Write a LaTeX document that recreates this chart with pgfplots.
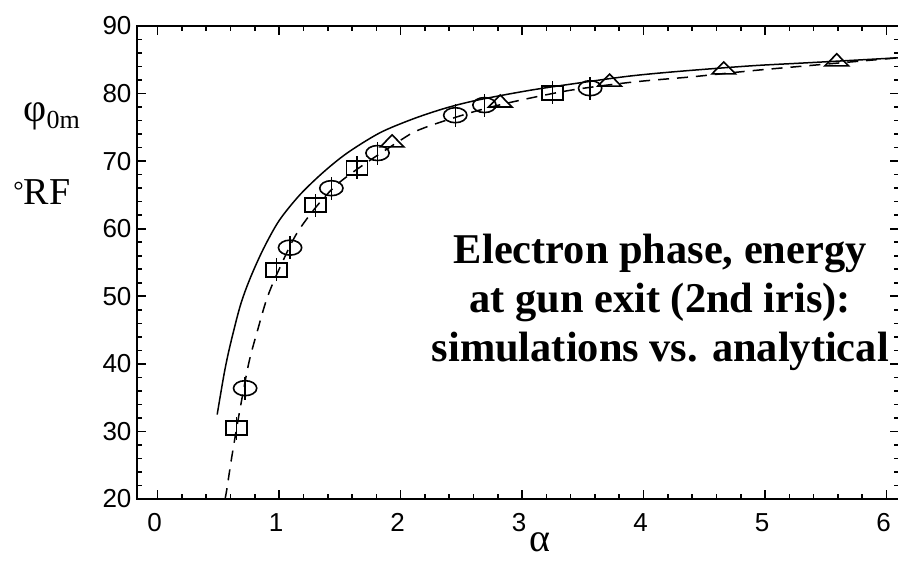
\documentclass[border=0pt]{standalone}
\usepackage{fontspec}
\setmainfont{Liberation Serif}
\newfontfamily\sansf{Liberation Sans}
\usepackage{pgfplots}
\usepackage{pgfplotstable}
\pgfplotsset{compat=1.18}

\pgfplotstableread{
x y
0.49 32.5
0.55 38.8
0.60 43.0
0.68 48.6
0.76 52.6
0.87 57.0
1.00 61.2
1.17 65.0
1.36 68.3
1.56 71.2
1.83 74.2
2.11 76.3
2.38 77.9
2.65 79.1
3.07 80.5
3.48 81.6
3.89 82.6
4.30 83.3
4.88 84.1
5.29 84.5
5.70 84.9
6.10 85.3
}\solid

\pgfplotstableread{
x y
0.555 20.0
0.57 21.5
0.61 26.2
0.67 32.5
0.75 40.1
0.82 44.8
0.90 49.7
1.00 54.0
1.17 60.0
1.48 66.6
2.00 73.1
2.19 74.9
2.60 77.3
2.93 78.8
3.40 80.5
3.91 81.7
4.41 82.5
4.90 83.4
5.40 84.2
6.10 85.3
}\dashed

\pgfplotstableread{
x y
0.65 30.5
0.98 53.9
1.30 63.5
1.64 69.0
3.25 80.1
}\squares

\pgfplotstableread{
x y
0.72 36.4
1.09 57.2
1.43 66.0
1.81 71.2
2.45 76.8
2.69 78.3
3.56 80.8
}\ovals

\pgfplotstableread{
x y
1.93 72.7
2.82 78.6
3.72 81.7
4.66 83.5
5.59 84.7
}\triangles

\begin{document}
\begin{tikzpicture}
\begin{axis}[
  name=ax,
  scale only axis,
  width=761.7pt, height=473pt,
  xmin=-0.17, xmax=6.1,
  ymin=20, ymax=90,
  xtick={0,1,2,3,4,5,6},
  ytick={20,30,40,50,60,70,80,90},
  minor x tick num=4,
  minor y tick num=4,
  major tick length=9pt,
  minor tick length=5pt,
  tick style={line width=1.6pt, black},
  axis line style={line width=1.8pt},
  /pgf/number format/assume math mode=true,
  tick label style={font=\sansf\fontsize{26}{28}\selectfont},
  xticklabel style={yshift=-11pt, xshift=-3pt},
  yticklabel style={xshift=-2pt},
  clip=false,
]
\addplot[black, line width=1.5pt, smooth, tension=0.5] table[x=x,y=y] {\solid};
\addplot[black, line width=1.5pt, smooth, tension=0.5, dash pattern=on 11pt off 8pt] table[x=x,y=y] {\dashed};
\addplot[black, only marks, mark=square, mark size=7pt,
  mark options={xscale=1.5, line width=1.6pt, solid},
  error bars/.cd, y dir=both, y fixed=1.7, error mark=none,
  error bar style={line width=1.4pt}] table[x=x,y=y] {\squares};
\addplot[black, only marks, mark=o, mark size=7.5pt,
  mark options={xscale=1.55, line width=1.6pt, solid},
  error bars/.cd, y dir=both, y fixed=1.7, error mark=none,
  error bar style={line width=1.4pt}] table[x=x,y=y] {\ovals};
\addplot[black, only marks, mark=triangle, mark size=8pt,
  mark options={xscale=1.7, line width=1.6pt, solid}] table[x=x,y=y] {\triangles};

\node[font=\fontsize{40}{44}\selectfont] at (axis description cs:-0.112,0.808) {φ\raisebox{-0.35ex}{\fontsize{26}{28}\selectfont 0m}};
\node[font=\fontsize{38}{40}\selectfont] at (axis description cs:-0.125,0.649) {\raisebox{0.3ex}{\fontsize{26}{28}\selectfont °}RF};
\node[font=\fontsize{40}{42}\selectfont, inner sep=0pt] at (axis description cs:0.529,-0.092) {α};
\node[font=\bfseries\fontsize{42.4}{49}\selectfont, align=center] at (axis description cs:0.687,0.416)
  {Electron phase, energy\\at gun exit (2nd iris):\\simulations vs. analytical};
\end{axis}
\pgfresetboundingbox
\path[use as bounding box] ([xshift=-137pt,yshift=-63pt]ax.south west) rectangle ++(898pt,562pt);
\end{tikzpicture}
\end{document}
